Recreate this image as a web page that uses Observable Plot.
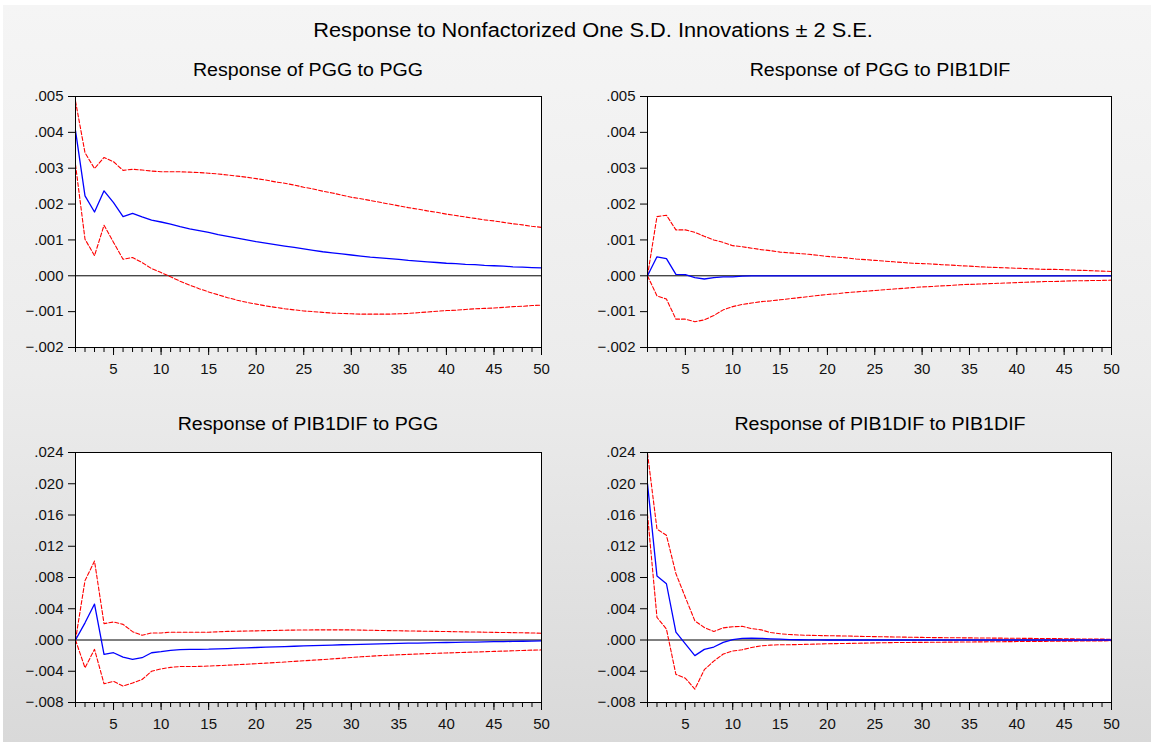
<!DOCTYPE html>
<html>
<head>
<meta charset="utf-8">
<script src="https://cdn.jsdelivr.net/npm/d3@7"></script>
<script src="https://cdn.jsdelivr.net/npm/@observablehq/plot@0.6"></script>
<style>
  html, body { margin: 0; padding: 0; background: #ffffff; }
  #page { position: absolute; left: 3px; top: 5px; width: 1148px; height: 737px;
          background: linear-gradient(to bottom, #f5f5f5 0%, #ececec 50%, #d9d9d9 100%);
          font-family: "Liberation Sans", Arial, sans-serif; overflow: hidden; }
  .ttl { position: absolute; white-space: nowrap; color: #000; line-height: 1.15;
         transform: translateX(-50%) scaleX(1.09); transform-origin: center; }
  .panel { position: absolute; }
</style>
</head>
<body>
<div id="page"></div>
<script>
// ---------- data ----------
const horizons = [1,2,3,4,5,6,7,8,9,10,11,12,13,14,15,16,17,18,19,20,21,22,23,24,25,26,27,28,29,30,31,32,33,34,35,36,37,38,39,40,41,42,43,44,45,46,47,48,49,50];
const xTicks = [5,10,15,20,25,30,35,40,45,50];
const yTicksPGG = [0.005,0.004,0.003,0.002,0.001,0,-0.001,-0.002];
const yTicksPIB = [0.024,0.020,0.016,0.012,0.008,0.004,0,-0.004,-0.008];

const mainTitle = "Response to Nonfactorized One S.D. Innovations ± 2 S.E.";
const panelTitles = ["Response of PGG to PGG","Response of PGG to PIB1DIF","Response of PIB1DIF to PGG","Response of PIB1DIF to PIB1DIF"];

// PGG to PGG
const pggPggResp = [0.00405,0.00223,0.00178,0.00237,0.00204,0.00165,0.00174,0.00164,0.00155,0.00150,0.00144,0.00137,0.00131,0.00126,0.00121,0.00115,0.00110,0.00105,0.00100,0.00095,0.00091,0.00087,0.00083,0.00079,0.00075,0.00071,0.00067,0.00064,0.00061,0.00058,0.00055,0.00052,0.00050,0.00048,0.00046,0.00043,0.00041,0.00039,0.00037,0.00035,0.00034,0.00032,0.00031,0.00029,0.00028,0.00027,0.00025,0.00024,0.00023,0.00022];
const pggPggUpper = [0.00487,0.00343,0.00299,0.00330,0.00318,0.00294,0.00297,0.00295,0.00292,0.00290,0.00290,0.00290,0.00289,0.00288,0.00286,0.00284,0.00281,0.00278,0.00275,0.00271,0.00267,0.00262,0.00258,0.00253,0.00247,0.00242,0.00236,0.00231,0.00225,0.00219,0.00215,0.00210,0.00205,0.00200,0.00195,0.00190,0.00186,0.00181,0.00177,0.00172,0.00168,0.00164,0.00160,0.00156,0.00153,0.00149,0.00145,0.00142,0.00138,0.00135];
const pggPggLower = [0.00310,0.00102,0.00056,0.00141,0.00093,0.00046,0.00051,0.00037,0.00020,0.00009,-0.00003,-0.00015,-0.00026,-0.00036,-0.00045,-0.00053,-0.00061,-0.00068,-0.00074,-0.00079,-0.00084,-0.00088,-0.00092,-0.00095,-0.00098,-0.00100,-0.00102,-0.00104,-0.00105,-0.00106,-0.00107,-0.00107,-0.00107,-0.00107,-0.00106,-0.00105,-0.00103,-0.00101,-0.00099,-0.00097,-0.00096,-0.00094,-0.00092,-0.00091,-0.00090,-0.00088,-0.00086,-0.00085,-0.00083,-0.00082];

// PGG to PIB1DIF
const pggPibResp = [0,0.00053,0.00048,0.00004,0.00003,-0.00005,-0.00009,-0.00005,-0.00003,-0.00003,-0.00001,0,0,0,0,0,0,0,0,0,0,0,0,0,0,0,0,0,0,0,0,0,0,0,0,0,0,0,0,0,0,0,0,0,0,0,0,0,0,0];
const pggPibUpper = [0,0.00165,0.00169,0.00128,0.00128,0.00121,0.00110,0.00100,0.00093,0.00084,0.00081,0.00077,0.00073,0.00070,0.00066,0.00064,0.00062,0.00060,0.00057,0.00054,0.00052,0.00050,0.00047,0.00045,0.00043,0.00041,0.00039,0.00037,0.00035,0.00034,0.00033,0.00031,0.00030,0.00028,0.00027,0.00025,0.00024,0.00023,0.00022,0.00021,0.00020,0.00019,0.00018,0.00018,0.00017,0.00016,0.00015,0.00014,0.00013,0.00012];
const pggPibLower = [0,-0.00056,-0.00065,-0.00121,-0.00121,-0.00128,-0.00123,-0.00111,-0.00095,-0.00086,-0.00080,-0.00076,-0.00072,-0.00070,-0.00067,-0.00064,-0.00061,-0.00058,-0.00055,-0.00052,-0.00050,-0.00047,-0.00045,-0.00043,-0.00041,-0.00039,-0.00037,-0.00035,-0.00033,-0.00031,-0.00030,-0.00028,-0.00027,-0.00025,-0.00024,-0.00023,-0.00022,-0.00021,-0.00020,-0.00019,-0.00018,-0.00017,-0.00016,-0.00016,-0.00015,-0.00014,-0.00014,-0.00013,-0.00013,-0.00012];

// PIB1DIF to PGG
const pibPggResp = [0,0.0022,0.0046,-0.00184,-0.00163,-0.00219,-0.00249,-0.00227,-0.00163,-0.00150,-0.00133,-0.00122,-0.00120,-0.00119,-0.00118,-0.00114,-0.00110,-0.00105,-0.00100,-0.00096,-0.00092,-0.00088,-0.00084,-0.00080,-0.00076,-0.00072,-0.00068,-0.00065,-0.00061,-0.00058,-0.00055,-0.00052,-0.00049,-0.00046,-0.00044,-0.00041,-0.00039,-0.00036,-0.00034,-0.00032,-0.00030,-0.00028,-0.00026,-0.00024,-0.00022,-0.00020,-0.00018,-0.00016,-0.00014,-0.00012];
const pibPggUpper = [0,0.0076,0.0101,0.0021,0.0023,0.0020,0.00107,0.00060,0.00090,0.00090,0.00100,0.00100,0.00100,0.00100,0.00100,0.00105,0.00110,0.00112,0.00115,0.00117,0.00120,0.00122,0.00125,0.00127,0.00128,0.00129,0.00130,0.00130,0.00130,0.00129,0.00127,0.00125,0.00122,0.00120,0.00118,0.00116,0.00114,0.00112,0.00110,0.00108,0.00106,0.00104,0.00102,0.00100,0.00098,0.00096,0.00094,0.00092,0.00090,0.00086];
const pibPggLower = [0,-0.00356,-0.0012,-0.0056,-0.0053,-0.0059,-0.0055,-0.00506,-0.0040,-0.0037,-0.0035,-0.0034,-0.0034,-0.00338,-0.00333,-0.00328,-0.00322,-0.00316,-0.00310,-0.00303,-0.00296,-0.00289,-0.00282,-0.00274,-0.00266,-0.00258,-0.00250,-0.00242,-0.00233,-0.00224,-0.00215,-0.00207,-0.00200,-0.00194,-0.00189,-0.00184,-0.00179,-0.00174,-0.00170,-0.00166,-0.00162,-0.00158,-0.00154,-0.00150,-0.00146,-0.00142,-0.00138,-0.00134,-0.00130,-0.00127];

// PIB1DIF to PIB1DIF
const pibPibResp = [0.0200,0.0082,0.0072,0.0010,-0.0005,-0.0020,-0.0012,-0.0009,-0.0003,0.00005,0.00020,0.00025,0.00022,0.00015,0.00010,0.00005,0.00003,0.00002,0.00001,0,0,0,0,0,0,0,0,0,0,0,0,0,0,0,0,0,0,0,0,0,0,0,0,0,0,0,0,0,0,0];
const pibPibUpper = [0.0239,0.0142,0.0134,0.0085,0.00545,0.00245,0.00160,0.00110,0.00155,0.00170,0.00175,0.00145,0.00130,0.00095,0.00080,0.00070,0.00064,0.00060,0.00057,0.00055,0.00053,0.00051,0.00048,0.00045,0.00043,0.00041,0.00039,0.00037,0.00035,0.00033,0.00031,0.00030,0.00029,0.00028,0.00027,0.00026,0.00025,0.00024,0.00023,0.00022,0.00021,0.00020,0.00019,0.00018,0.00016,0.00014,0.00013,0.00012,0.00011,0.00010];
const pibPibLower = [0.0161,0.0029,0.0014,-0.0044,-0.0049,-0.0063,-0.0038,-0.0027,-0.0018,-0.0014,-0.00125,-0.00095,-0.00075,-0.00065,-0.00060,-0.00060,-0.00058,-0.00055,-0.00052,-0.00048,-0.00046,-0.00044,-0.00042,-0.00040,-0.00037,-0.00035,-0.00033,-0.00032,-0.00031,-0.00030,-0.00029,-0.00028,-0.00027,-0.00026,-0.00025,-0.00024,-0.00023,-0.00022,-0.00021,-0.00020,-0.00019,-0.00018,-0.00017,-0.00016,-0.00015,-0.00014,-0.00013,-0.00012,-0.00011,-0.00010];

// ---------- drawing ----------
const page = document.getElementById("page");
const FONT = '"Liberation Sans", Arial, sans-serif';
const fmt = v => d3.format(".3f")(v).replace("0.", ".");

function addText(txt, cx, top, size) {
  const d = document.createElement("div");
  d.className = "ttl";
  d.textContent = txt;
  d.style.left = cx + "px";
  d.style.top = top + "px";
  d.style.fontSize = size + "px";
  page.appendChild(d);
}

function panel(cfg) {
  const p = Plot.plot({
    width: cfg.width, height: cfg.height,
    marginLeft: cfg.ml, marginRight: cfg.mr, marginTop: cfg.mt, marginBottom: cfg.mb,
    x: {domain: [1, 50]},
    y: {domain: cfg.yDomain},
    style: {background: "transparent", fontFamily: FONT, fontSize: "15px", color: "#111", overflow: "visible"},
    marks: [
      Plot.frame({fill: "white", stroke: null}),
      Plot.ruleY([0], {stroke: "black", strokeWidth: 1}),
      Plot.lineY(cfg.upper, {x: horizons, stroke: "#ff0000", strokeWidth: 1.1, strokeDasharray: "4,2"}),
      Plot.lineY(cfg.lower, {x: horizons, stroke: "#ff0000", strokeWidth: 1.1, strokeDasharray: "4,2"}),
      Plot.lineY(cfg.resp, {x: horizons, stroke: "#0000ff", strokeWidth: 1.3}),
      Plot.axisY({ticks: cfg.yTicks, tickSize: 7, tickPadding: 5, tickFormat: fmt, label: null, stroke: "#000"}),
      Plot.axisX({ticks: horizons, tickSize: 5, tickFormat: () => "", label: null, stroke: "#000"}),
      Plot.axisX({ticks: xTicks, tickSize: 8, tickPadding: 8, label: null, stroke: "#000"}),
      Plot.frame({stroke: "#000", strokeWidth: 1})
    ]
  });
  p.classList.add("panel");
  p.style.left = cfg.left + "px";
  p.style.top = cfg.top + "px";
  page.appendChild(p);
}

// page is offset by (3,5) from window
const OX = 3, OY = 5;
addText(mainTitle, 593 - OX, 18.5 - OY, 20);

const topCfg = {top: 80 - OY, height: 300, mt: 16, mb: 33, yDomain: [-0.002, 0.005], yTicks: yTicksPGG};
const botCfg = {top: 436 - OY, height: 298, mt: 16, mb: 32, yDomain: [-0.008, 0.024], yTicks: yTicksPIB};
const leftCfg = {left: 0 - OX, width: 560, ml: 75, mr: 19};
const rightCfg = {left: 580 - OX, width: 550, ml: 67, mr: 19};

panel({...topCfg, ...leftCfg, resp: pggPggResp, upper: pggPggUpper, lower: pggPggLower});
panel({...topCfg, ...rightCfg, resp: pggPibResp, upper: pggPibUpper, lower: pggPibLower});
panel({...botCfg, ...leftCfg, resp: pibPggResp, upper: pibPggUpper, lower: pibPggLower});
panel({...botCfg, ...rightCfg, resp: pibPibResp, upper: pibPibUpper, lower: pibPibLower});

addText(panelTitles[0], 308 - OX, 60 - OY, 18);
addText(panelTitles[1], 880 - OX, 60 - OY, 18);
addText(panelTitles[2], 308 - OX, 414 - OY, 18);
addText(panelTitles[3], 880 - OX, 414 - OY, 18);
</script>
</body>
</html>
